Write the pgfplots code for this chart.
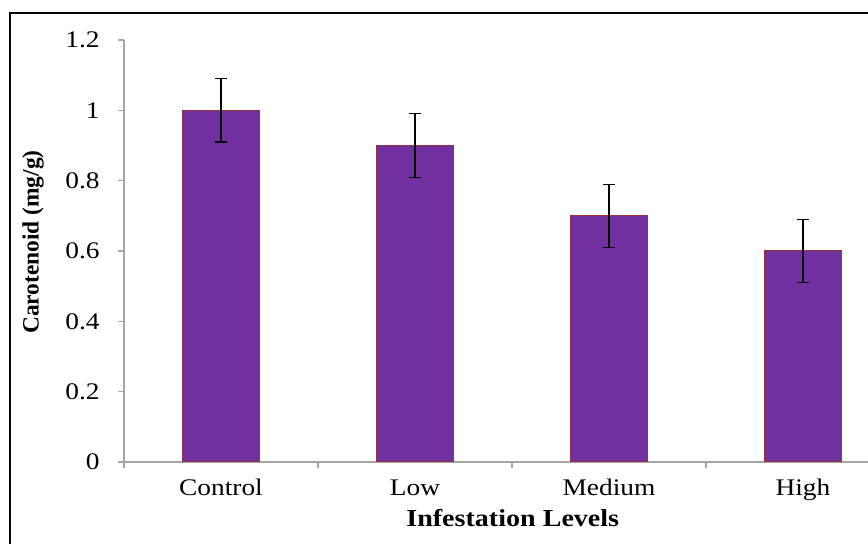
\documentclass[border=0pt]{standalone}
\usepackage{fontspec}
\setmainfont[FakeStretch=1.15]{Liberation Serif}
\newfontfamily\ylabfont{Liberation Serif}
\usepackage{pgfplots}
\pgfplotsset{compat=1.18}
\definecolor{barpurple}{RGB}{112,48,160}
\definecolor{baredge}{RGB}{150,50,60}
\definecolor{axgray}{RGB}{165,165,165}
\begin{document}
\begin{tikzpicture}
\useasboundingbox (-62pt,-41pt) rectangle (372pt,231pt);
\clip (-62pt,-41pt) rectangle (372pt,231pt);
\draw[line width=1pt,black] (-57pt,-60pt) rectangle (400pt,224.5pt);
\begin{axis}[
  at={(0pt,0pt)}, anchor=south west,
  width=388pt, height=211pt, scale only axis,
  xmin=-0.5, xmax=3.5, ymin=0, ymax=1.2,
  axis y line*=left, axis x line*=bottom,
  axis line style={axgray, line width=0.6pt, -},
  tick style={axgray, line width=0.6pt},
  tick align=outside,
  major tick length=3pt,
  ytick={0,0.2,...,1.2},
  yticklabels={0,0.2,0.4,0.6,0.8,1,1.2},
  yticklabel style={anchor=east, inner sep=0pt, xshift=-9pt},
  xtick={-0.5,0.5,1.5,2.5,3.5},
  xticklabels={},
  extra x ticks={0,1,2,3},
  extra x tick labels={Control,Low,Medium,High},
  extra x tick style={major tick length=0pt, xticklabel style={anchor=base, inner sep=0pt, yshift=-16.75pt}},
  /pgf/number format/assume math mode=true,
  tick label style={font=\fontsize{11.9}{13.5}\selectfont, text=black},
  xlabel={\textbf{Infestation Levels}},
  xlabel style={at={(axis description cs:0.501,-0.154)}, anchor=base, font=\fontsize{12.2}{14}\selectfont},
  ylabel={\ylabfont\bfseries Carotenoid (mg/g)},
  ylabel style={at={(axis description cs:-0.1173,0.521)}, anchor=center, font=\fontsize{11.7}{13.5}\selectfont},
  clip=false,
]
\addplot[ybar, bar width=38.5pt, fill=barpurple, draw=baredge, line width=0.5pt,
  error bars/.cd, y dir=both, y explicit,
  error bar style={black, line width=0.6pt},
  error mark options={black, line width=0.6pt, mark size=2.8pt, rotate=90}]
  coordinates {
  (0,1.0) +- (0,0.09)
  (1,0.9) +- (0,0.09)
  (2,0.7) +- (0,0.09)
  (3,0.6) +- (0,0.09)
  };
\end{axis}
\end{tikzpicture}
\end{document}
